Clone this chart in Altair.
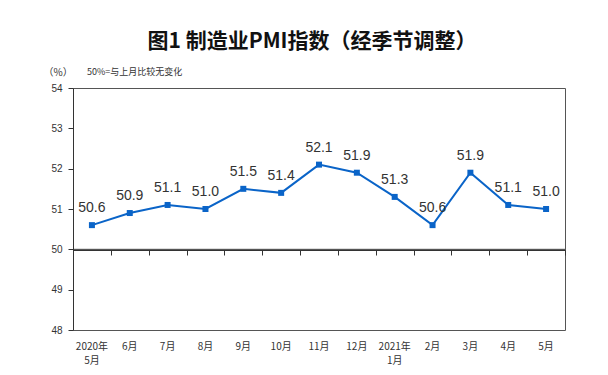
import altair as alt
import pandas as pd

categories = ["2020年\n5月", "6月", "7月", "8月", "9月", "10月", "11月", "12月",
              "2021年\n1月", "2月", "3月", "4月", "5月"]
pmi = [50.6, 50.9, 51.1, 51.0, 51.5, 51.4, 52.1, 51.9, 51.3, 50.6, 51.9, 51.1, 51.0]
y_ticks = [48, 49, 50, 51, 52, 53, 54]
baseline = [50]
note = ["50%=与上月比较无变化"]

df = pd.DataFrame({"month": categories, "pmi": pmi, "label": [f"{v:.1f}" for v in pmi]})
base_df = pd.DataFrame({"v": baseline})

FONT = "Liberation Sans, Noto Sans CJK SC"
CJK = "Noto Sans CJK SC"
BLUE = "#0a64c8"

x_enc = alt.X("month:N", sort=categories, title=None,
              scale=alt.Scale(paddingInner=0, paddingOuter=0),
              axis=alt.Axis(orient="bottom", domain=False, ticks=False, labelAngle=0,
                            labelFont=CJK, labelFontSize=10, labelColor="#333",
                            labelPadding=11, labelExpr="split(datum.label, '\\n')",
                            labelLineHeight=14, grid=False))

y_enc = alt.Y("pmi:Q", scale=alt.Scale(domain=[48, 54], nice=False, zero=False),
              title="（%）",
              axis=alt.Axis(values=y_ticks, tickSize=5, tickColor="#333", domainColor="#333",
                            labelFont=FONT, labelFontSize=10, labelColor="#333",
                            labelPadding=6, grid=False,
                            titleAngle=0, titleAlign="left", titleBaseline="middle",
                            titleX=-30, titleY=-16, titleFont=CJK, titleFontSize=10,
                            titleFontWeight="normal", titleColor="#333"))

x_plain = alt.X("month:N", sort=categories, axis=None)

line = alt.Chart(df).mark_line(color=BLUE, strokeWidth=2).encode(x=x_enc, y=y_enc)

# axis drawn along the 50 line, with ticks at category boundaries
tick_axis = alt.Chart(df).mark_point(opacity=0).encode(
    x=alt.X("month:N", sort=categories, title=None,
            axis=alt.Axis(orient="bottom", offset=-80, labels=False, ticks=True,
                          tickBand="extent", tickSize=5, tickColor="#333",
                          domain=True, domainColor="#333", grid=False)),
    y=alt.Y("pmi:Q"))

pts = alt.Chart(df).mark_square(color=BLUE, size=36, opacity=1).encode(
    x=x_plain, y="pmi:Q")
labels = alt.Chart(df).mark_text(dy=-17, font=FONT, fontSize=14, color="#333").encode(
    x=x_plain, y="pmi:Q", text="label:N")

rule50 = alt.Chart(base_df).mark_rule(color="#333", strokeWidth=1).encode(y="v:Q")

note_txt = alt.Chart(pd.DataFrame({"t": note})).mark_text(
    font=CJK, fontSize=9, color="#333", align="left", baseline="middle").encode(
    x=alt.value(14), y=alt.value(-16), text="t:N")

chart = alt.layer(line, tick_axis, rule50, pts, labels, note_txt).resolve_axis(
    x="independent").properties(
    width=492, height=242,
    autosize=alt.AutoSizeParams(type="none"),
    padding={"left": 65, "top": 80, "right": 35, "bottom": 37},
    title=alt.TitleParams("图1 制造业PMI指数（经季节调整）", font=CJK, fontSize=21,
                          fontWeight="bold", color="#111", anchor="middle", dx=-7,
                          offset=15),
).configure_view(stroke="#555", strokeWidth=1)

chart.save("out.html", embed_options={"renderer": "svg", "actions": False})
